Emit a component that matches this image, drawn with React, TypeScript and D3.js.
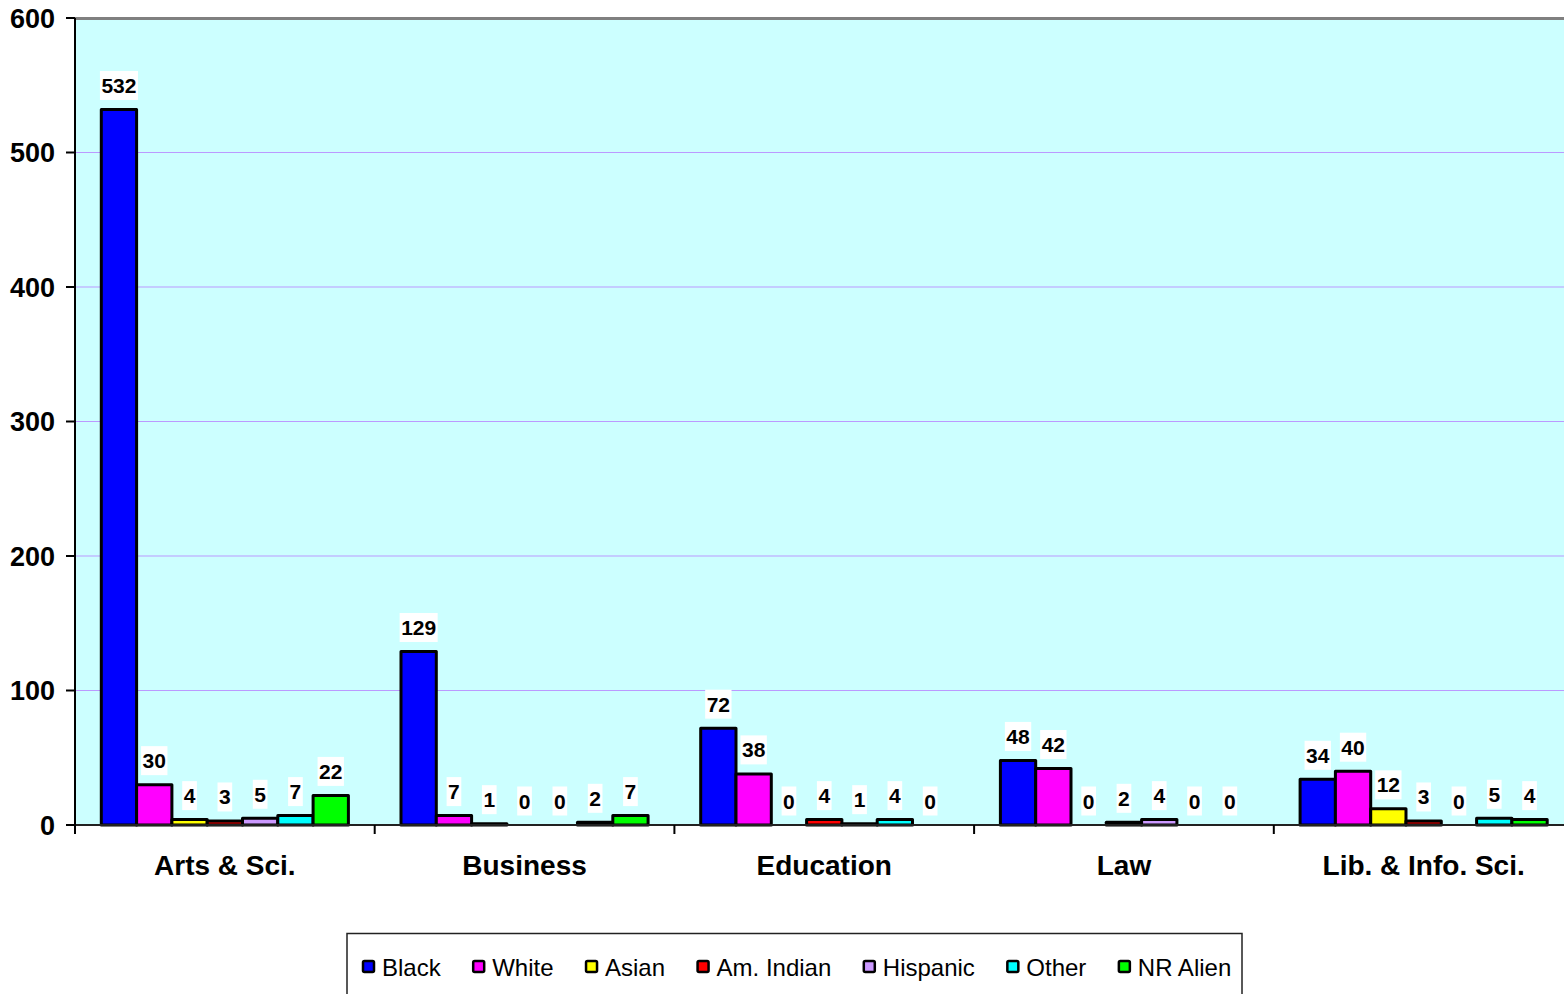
import React from "react";
import * as d3 from "d3";

const categories = ["Arts & Sci.", "Business", "Education", "Law", "Lib. & Info. Sci."];
const seriesNames = ["Black", "White", "Asian", "Am. Indian", "Hispanic", "Other", "NR Alien"];
const seriesColors = ["#0000ff", "#ff00ff", "#ffff00", "#ff0000", "#cc99ff", "#00ffff", "#00ff00"];
const black = [532, 129, 72, 48, 34];
const white = [30, 7, 38, 42, 40];
const asian = [4, 1, 0, 0, 12];
const amIndian = [3, 0, 4, 2, 3];
const hispanic = [5, 0, 1, 4, 0];
const other = [7, 2, 4, 0, 5];
const nrAlien = [22, 7, 0, 0, 4];
const yTicks = [0, 100, 200, 300, 400, 500, 600];

const seriesValues = [black, white, asian, amIndian, hispanic, other, nrAlien];

const FONT = "'Liberation Sans', Arial, Helvetica, sans-serif";

function measure(text: string, font: string): number {
  const c = document.createElement("canvas");
  const ctx = c.getContext("2d");
  if (!ctx) return text.length * 12;
  ctx.font = font;
  return ctx.measureText(text).width;
}

export default function App() {
  const W = 1564;
  const H = 994;
  const left = 75;
  const top = 18;
  const bottom = 825;
  const bandW = 299.7;
  const x0 = d3.scaleBand<string>().domain(categories).range([left, left + bandW * categories.length]).paddingInner(0).paddingOuter(0);
  const x1 = d3.scaleBand<string>().domain(seriesNames).range([0, x0.bandwidth()]).paddingInner(0).paddingOuter(0.745);
  const y = d3.scaleLinear().domain([0, 600]).range([bottom, top]);
  const right = left + bandW * categories.length;

  const labelFont = `bold 21px ${FONT}`;
  const legendFont = `24px ${FONT}`;

  let lx = 362;
  const legendItems = seriesNames.map((name, i) => {
    const tw = measure(name, legendFont);
    const item = { name, color: seriesColors[i], mx: lx, tx: lx + 20 };
    lx = lx + 20 + tw + 31.5;
    return item;
  });

  return (
    <svg width={W} height={H} style={{ position: "absolute", left: 0, top: 0, background: "#fff" }}>
      <rect x={left} y={top} width={right - left} height={bottom - top} fill="#ccffff" />
      {yTicks.filter((t) => t > 0 && t < 600).map((t) => (
        <line key={t} x1={left} x2={right} y1={y(t)} y2={y(t)} stroke="#bb99ff" strokeWidth={1} />
      ))}
      <line x1={left} x2={right} y1={top + 0.5} y2={top + 0.5} stroke="#808080" strokeWidth={3} />
      {categories.map((cat, ci) => (
        <g key={cat}>
          {seriesNames.map((s, si) => {
            const v = seriesValues[si][ci];
            const bx = (x0(cat) as number) + (x1(s) as number);
            const bw = x1.bandwidth();
            const by = y(v);
            return v > 0 ? (
              <rect key={s} x={bx} y={by} width={bw} height={bottom - by} fill={seriesColors[si]} stroke="#000" strokeWidth={3} strokeLinejoin="round" />
            ) : null;
          })}
        </g>
      ))}
      <line x1={left} x2={right} y1={bottom} y2={bottom} stroke="#222" strokeWidth={2} />
      <line x1={left} x2={left} y1={top} y2={bottom} stroke="#000" strokeWidth={2} />
      {yTicks.map((t) => (
        <g key={t}>
          <line x1={66} x2={left} y1={y(t)} y2={y(t)} stroke="#000" strokeWidth={2} />
          <text x={55} y={y(t) + 9.5} textAnchor="end" fontFamily={FONT} fontWeight="bold" fontSize={27} fill="#000">
            {t}
          </text>
        </g>
      ))}
      {categories.map((cat, i) => (
        <line key={"tk" + i} x1={x0(cat) as number} x2={x0(cat) as number} y1={bottom} y2={bottom + 9} stroke="#000" strokeWidth={2} />
      ))}
      <line x1={right} x2={right} y1={bottom} y2={bottom + 9} stroke="#000" strokeWidth={2} />
      {categories.map((cat) => (
        <text key={"cl" + cat} x={(x0(cat) as number) + x0.bandwidth() / 2} y={875} textAnchor="middle" fontFamily={FONT} fontWeight="bold" fontSize={28} fill="#000">
          {cat}
        </text>
      ))}
      {categories.map((cat, ci) => (
        <g key={"vl" + cat}>
          {seriesNames.map((s, si) => {
            const v = seriesValues[si][ci];
            const cx = (x0(cat) as number) + (x1(s) as number) + x1.bandwidth() / 2;
            const cy = y(v) - 24;
            const tw = measure(String(v), labelFont);
            return (
              <g key={s}>
                <rect x={cx - tw / 2 - 1.5} y={cy - 14.5} width={tw + 3} height={29} fill="#fff" />
                <text x={cx} y={cy + 7.5} textAnchor="middle" fontFamily={FONT} fontWeight="bold" fontSize={21} fill="#000">
                  {v}
                </text>
              </g>
            );
          })}
        </g>
      ))}
      <rect x={347} y={933.5} width={895} height={100} fill="#fff" stroke="#222" strokeWidth={1.5} />
      {legendItems.map((it) => (
        <g key={it.name}>
          <rect x={it.mx + 1} y={961} width={11} height={11} fill={it.color} stroke="#000" strokeWidth={2.5} rx={1.5} />
          <text x={it.tx} y={975.5} fontFamily={FONT} fontSize={24} fill="#000">
            {it.name}
          </text>
        </g>
      ))}
    </svg>
  );
}
